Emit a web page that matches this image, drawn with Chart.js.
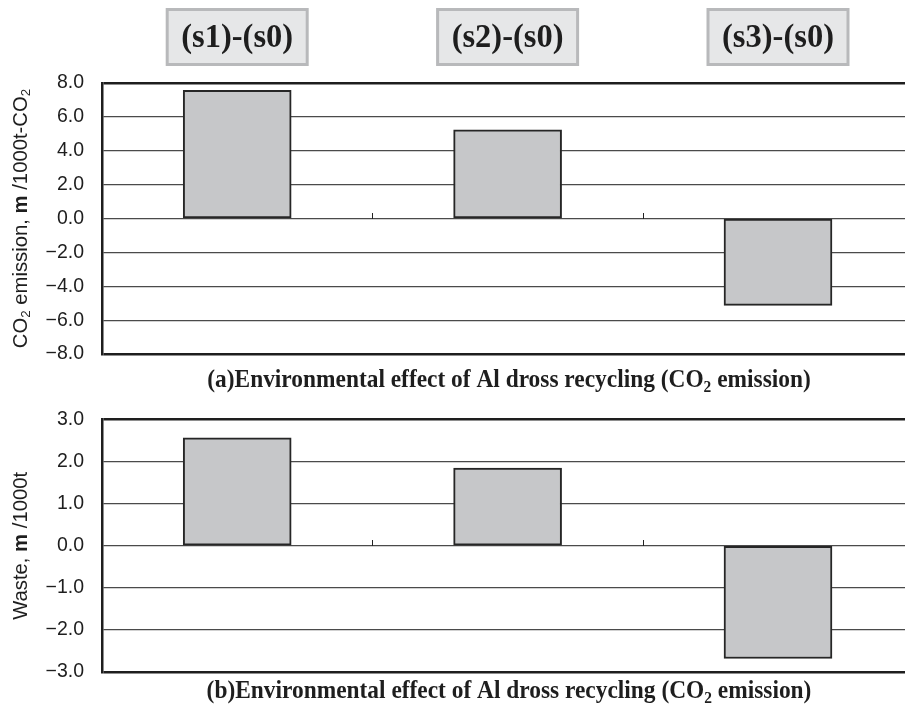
<!DOCTYPE html>
<html>
<head>
<meta charset="utf-8">
<script src="https://cdn.jsdelivr.net/npm/chart.js@4.4.0/dist/chart.umd.min.js"></script>
<style>
  html, body { margin: 0; padding: 0; background: #fff; overflow: hidden; }
  #wrap { position: relative; width: 905px; height: 706px; }
  canvas { position: absolute; left: 0; }
</style>
</head>
<body>
<div id="wrap">
  <canvas id="co2Chart" width="905" height="400" style="top:0"></canvas>
  <canvas id="wasteChart" width="905" height="316" style="top:390px"></canvas>
</div>
<script>
// Scenario differences against the baseline (s0)
const scenarios = ['(s1)-(s0)', '(s2)-(s0)', '(s3)-(s0)'];

// (a) CO2 emission change, 1000t-CO2
const co2Values = [7.56, 5.24, -5.13];
const co2Ticks = [-8, -6, -4, -2, 0, 2, 4, 6, 8];
const co2TickLabels = ['\u22128.0', '\u22126.0', '\u22124.0', '\u22122.0', '0.0', '2.0', '4.0', '6.0', '8.0'];

// (b) Waste change, 1000t
const wasteValues = [2.57, 1.85, -2.68];
const wasteTicks = [-3, -2, -1, 0, 1, 2, 3];
const wasteTickLabels = ['\u22123.0', '\u22122.0', '\u22121.0', '0.0', '1.0', '2.0', '3.0'];

const SANS = '"Liberation Sans", Arial, sans-serif';
const SERIF = '"Liberation Serif", "Times New Roman", serif';
const INK = '#1e1e1e';

// Draws a line of text made of runs (normal / bold / subscript), centred on (cx, cy)
function drawRuns(ctx, runs, cx, cy, size, family, baseWeight, rotate, stretch) {
  ctx.save();
  ctx.translate(cx, cy);
  if (rotate) ctx.rotate(-Math.PI / 2);
  if (stretch) ctx.scale(1, stretch);
  ctx.textBaseline = 'middle';
  ctx.textAlign = 'left';
  ctx.fillStyle = INK;
  const fontOf = r => {
    const w = r.bold ? 'bold' : baseWeight;
    const s = r.sub ? size * 0.66 : size;
    return `${w} ${s}px ${family}`;
  };
  let total = 0;
  runs.forEach(r => { ctx.font = fontOf(r); total += ctx.measureText(r.t).width; });
  let x = -total / 2;
  runs.forEach(r => {
    ctx.font = fontOf(r);
    ctx.fillText(r.t, x, r.sub ? size * 0.28 : 0);
    x += ctx.measureText(r.t).width;
  });
  ctx.restore();
}

function makeChart(id, values, ticks, tickLabels, cfg) {
  const points = values.map((v, i) => ({ x: i, y: v }));
  const bounds = scenarios.slice(1).map((_, i) => i + 0.5);

  const decor = {
    id: 'decor',
    afterDatasetsDraw(chart) {
      const { ctx, chartArea, scales: { x, y } } = chart;
      ctx.save();
      // short category boundary marks standing on the zero line
      ctx.strokeStyle = '#222';
      ctx.lineWidth = 1;
      const y0 = Math.round(y.getPixelForValue(0));
      bounds.forEach(b => {
        const px = Math.round(x.getPixelForValue(b)) + 0.5;
        ctx.beginPath();
        ctx.moveTo(px, y0);
        ctx.lineTo(px, y0 - 6);
        ctx.stroke();
      });
      ctx.restore();

      // scenario boxes above the upper panel
      if (cfg.boxes) {
        scenarios.forEach((s, i) => {
          const cx = x.getPixelForValue(i);
          const w = 140, h = 55, top = 9.5;
          ctx.save();
          ctx.fillStyle = '#e6e7e8';
          ctx.strokeStyle = '#b8b9bb';
          ctx.lineWidth = 3;
          ctx.fillRect(cx - w / 2, top, w, h);
          ctx.strokeRect(cx - w / 2, top, w, h);
          ctx.restore();
          drawRuns(ctx, [{ t: s }], cx, top + h / 2 + 1, 32.5, SERIF, 'bold', false, 1.06);
        });
      }

      // vertical axis title
      drawRuns(ctx, cfg.yTitle, 21, (chartArea.top + chartArea.bottom) / 2, 20.3, SANS, 'normal', true);
      // panel caption below the plot
      drawRuns(ctx, cfg.caption, cfg.captionX, cfg.captionY, 23.4, SERIF, 'bold', false, 1.06);
    }
  };

  const edge = ctx => (ctx.tick && (ctx.tick.value === ticks[0] || ctx.tick.value === ticks[ticks.length - 1]));

  return new Chart(document.getElementById(id), {
    type: 'bar',
    data: {
      datasets: [{
        data: points,
        backgroundColor: '#c6c7c9',
        borderColor: '#262626',
        borderWidth: 2,
        borderSkipped: false,
        barThickness: 108
      }]
    },
    options: {
      responsive: false,
      animation: false,
      events: [],
      layout: { padding: cfg.padding },
      plugins: { legend: { display: false }, tooltip: { enabled: false } },
      scales: {
        x: {
          type: 'linear',
          display: false,
          offset: false,
          min: -0.5,
          max: -0.5 + 803 / 270.4
        },
        y: {
          min: ticks[0],
          max: ticks[ticks.length - 1],
          afterBuildTicks: s => { s.ticks = ticks.map(v => ({ value: v })); },
          afterFit: s => { s.width = 102; },
          border: { display: true, color: '#1e1e1e', width: 2.5 },
          grid: {
            drawTicks: false,
            color: c => edge(c) ? '#1e1e1e' : '#4a4a4a',
            lineWidth: c => edge(c) ? 2.5 : 1.2
          },
          ticks: {
            padding: 18,
            color: INK,
            font: { family: SANS, size: 19.5 },
            callback: (v, i) => tickLabels[i]
          }
        }
      }
    },
    plugins: [decor]
  });
}

makeChart('co2Chart', co2Values, co2Ticks, co2TickLabels, {
  padding: { top: 83, bottom: 46, left: 0, right: 0 },
  boxes: true,
  yTitle: [{ t: 'CO' }, { t: '2', sub: true }, { t: ' emission, ' }, { t: 'm', bold: true }, { t: ' /1000t-CO' }, { t: '2', sub: true }],
  caption: [{ t: '(a)Environmental effect of Al dross recycling (CO' }, { t: '2', sub: true }, { t: ' emission)' }],
  captionX: 509,
  captionY: 381
});

makeChart('wasteChart', wasteValues, wasteTicks, wasteTickLabels, {
  padding: { top: 19, bottom: 34, left: 0, right: 0 },
  boxes: false,
  yTitle: [{ t: 'Waste, ' }, { t: 'm', bold: true }, { t: ' /1000t' }],
  caption: [{ t: '(b)Environmental effect of Al dross recycling (CO' }, { t: '2', sub: true }, { t: ' emission)' }],
  captionX: 509,
  captionY: 302
});
</script>
</body>
</html>
